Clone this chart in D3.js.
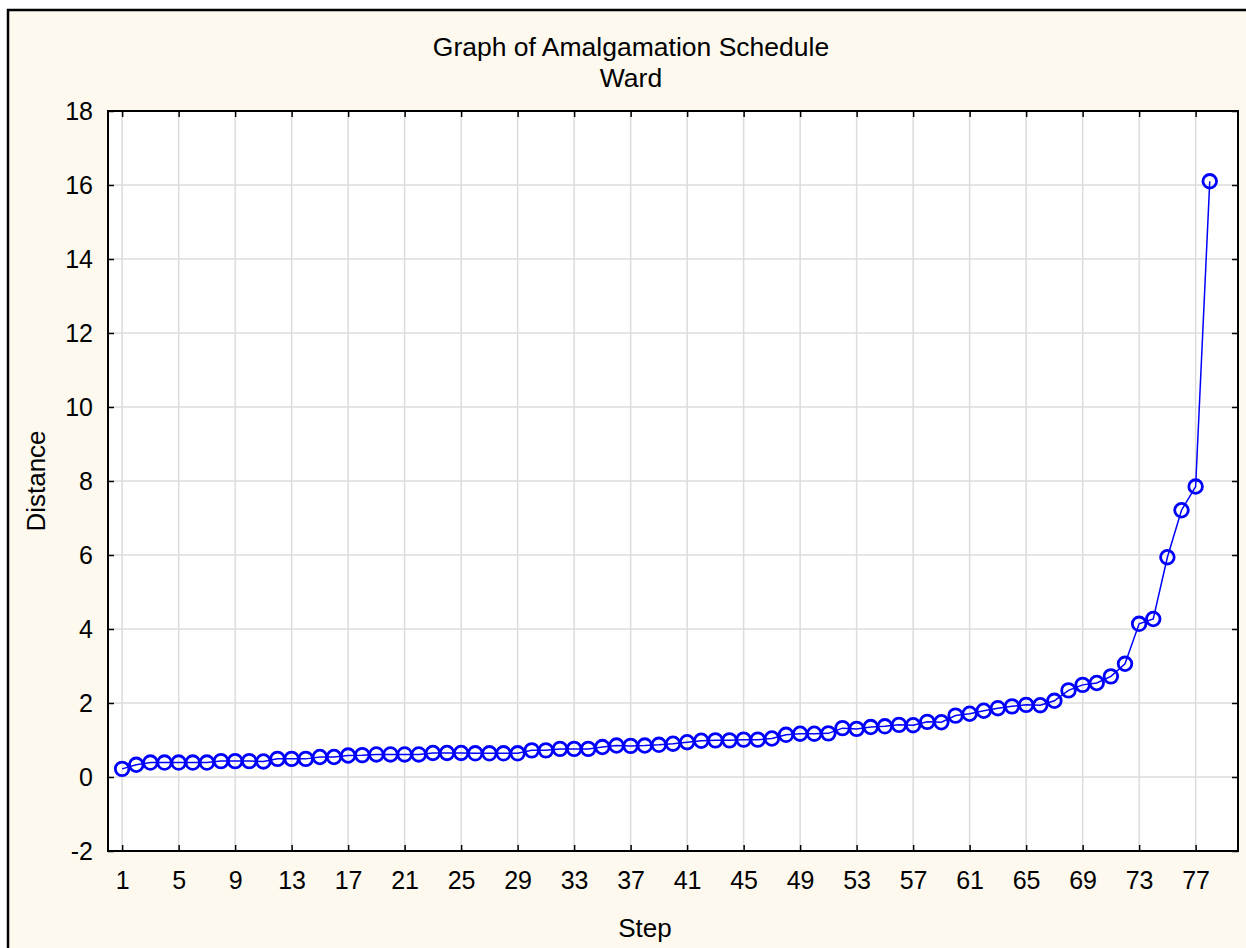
<!DOCTYPE html>
<html lang="en">
<head>
    <meta charset="utf-8">
    <title>Graph of Amalgamation Schedule</title>
    <script src="https://cdnjs.cloudflare.com/ajax/libs/d3/7.8.5/d3.min.js"></script>
    <style>
        body { margin: 0; background: #fff; }
        text { font-family: "Liberation Sans", Arial, sans-serif; fill: #000; }
    </style>
</head>
<body>
    <script>
    // data
    var steps = d3.range(1, 79);
    var distance = [
        0.22, 0.33, 0.39, 0.39, 0.39, 0.39, 0.39, 0.43, 0.43, 0.43,
        0.42, 0.49, 0.49, 0.49, 0.54, 0.54, 0.58, 0.59, 0.61, 0.61,
        0.61, 0.61, 0.65, 0.65, 0.65, 0.64, 0.64, 0.64, 0.64, 0.72,
        0.72, 0.76, 0.76, 0.76, 0.81, 0.85, 0.84, 0.85, 0.87, 0.90,
        0.94, 0.98, 0.99, 0.99, 1.01, 1.01, 1.04, 1.14, 1.17, 1.17,
        1.18, 1.32, 1.30, 1.35, 1.37, 1.41, 1.40, 1.49, 1.48, 1.66,
        1.71, 1.79, 1.86, 1.91, 1.95, 1.94, 2.06, 2.34, 2.49, 2.54,
        2.72, 3.06, 4.14, 4.27, 5.94, 7.21, 7.85, 16.10
    ];
    var xTicks = d3.range(1, 78, 4);
    var yTicks = d3.range(-2, 19, 2);

    var W = 1246, H = 948;
    var plot = {left: 108, right: 1238, top: 111, bottom: 851};

    var x = d3.scaleLinear().domain([0, 80]).range([plot.left, plot.right]);
    var y = d3.scaleLinear().domain([-2, 18]).range([plot.bottom, plot.top]);

    var svg = d3.select("body").append("svg")
        .attr("width", W)
        .attr("height", H);

    // outer frame
    svg.append("rect")
        .attr("x", 8).attr("y", 10)
        .attr("width", 1260).attr("height", 960)
        .attr("fill", "#fdf9ee")
        .attr("stroke", "#000")
        .attr("stroke-width", 2.5);

    // plot area
    svg.append("rect")
        .attr("x", plot.left).attr("y", plot.top)
        .attr("width", plot.right - plot.left)
        .attr("height", plot.bottom - plot.top)
        .attr("fill", "#fff");

    // grid
    svg.append("g").selectAll("line.gx")
        .data(xTicks).enter().append("line")
        .attr("x1", function(d) { return x(d); })
        .attr("x2", function(d) { return x(d); })
        .attr("y1", plot.top).attr("y2", plot.bottom)
        .attr("stroke", "#dcdcdc").attr("stroke-width", 1.5);
    svg.append("g").selectAll("line.gy")
        .data(yTicks).enter().append("line")
        .attr("y1", function(d) { return y(d); })
        .attr("y2", function(d) { return y(d); })
        .attr("x1", plot.left).attr("x2", plot.right)
        .attr("stroke", "#dcdcdc").attr("stroke-width", 1.5);

    // axes, ticks pointing inward on all four sides
    function styleAxis(g) {
        g.select(".domain").remove();
        g.selectAll(".tick line").attr("stroke", "#000").attr("stroke-width", 1.5);
        g.selectAll(".tick text")
            .attr("font-family", "Liberation Sans, Arial, sans-serif")
            .attr("font-size", 25)
            .attr("fill", "#000");
    }
    var plain = function(d) { return String(d); };

    svg.append("g")
        .attr("transform", "translate(0," + plot.bottom + ")")
        .call(d3.axisBottom(x).tickValues(xTicks).tickFormat(plain).tickSizeInner(-6).tickPadding(20))
        .call(styleAxis);
    svg.append("g")
        .attr("transform", "translate(0," + plot.top + ")")
        .call(d3.axisTop(x).tickValues(xTicks).tickSizeInner(-6).tickFormat(""))
        .call(styleAxis);
    svg.append("g")
        .attr("transform", "translate(" + plot.left + ",0)")
        .call(d3.axisLeft(y).tickValues(yTicks).tickFormat(plain).tickSizeInner(-6).tickPadding(15))
        .call(styleAxis);
    svg.append("g")
        .attr("transform", "translate(" + plot.right + ",0)")
        .call(d3.axisRight(y).tickValues(yTicks).tickSizeInner(-6).tickFormat(""))
        .call(styleAxis);

    // plot border
    svg.append("rect")
        .attr("x", plot.left).attr("y", plot.top)
        .attr("width", plot.right - plot.left)
        .attr("height", plot.bottom - plot.top)
        .attr("fill", "none")
        .attr("stroke", "#000")
        .attr("stroke-width", 2);

    // series
    var pts = steps.map(function(s, i) { return [s, distance[i]]; });
    var line = d3.line()
        .x(function(d) { return x(d[0]); })
        .y(function(d) { return y(d[1]); });

    svg.append("path")
        .datum(pts)
        .attr("d", line)
        .attr("fill", "none")
        .attr("stroke", "#0000ff")
        .attr("stroke-width", 1.5);

    svg.append("g").selectAll("circle")
        .data(pts).enter().append("circle")
        .attr("cx", function(d) { return x(d[0]); })
        .attr("cy", function(d) { return y(d[1]); })
        .attr("r", 6.8)
        .attr("fill", "none")
        .attr("stroke", "#0000ff")
        .attr("stroke-width", 2.8);

    // titles
    svg.append("text")
        .attr("x", 631).attr("y", 56)
        .attr("text-anchor", "middle")
        .attr("font-size", 26.5)
        .text("Graph of Amalgamation Schedule");
    svg.append("text")
        .attr("x", 631).attr("y", 87)
        .attr("text-anchor", "middle")
        .attr("font-size", 26.5)
        .text("Ward");

    svg.append("text")
        .attr("x", 645).attr("y", 937)
        .attr("text-anchor", "middle")
        .attr("font-size", 26)
        .text("Step");

    svg.append("text")
        .attr("transform", "translate(45,481) rotate(-90)")
        .attr("text-anchor", "middle")
        .attr("font-size", 26)
        .text("Distance");
    </script>
</body>
</html>
